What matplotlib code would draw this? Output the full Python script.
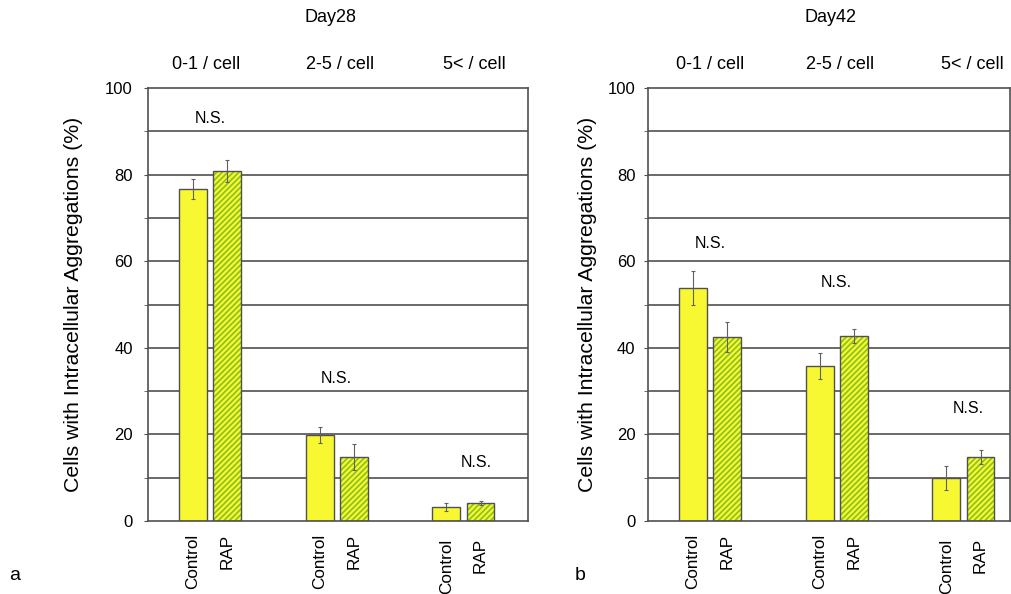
import matplotlib.pyplot as plt
import numpy as np

plt.rcParams['font.family'] = ['Liberation Sans', 'DejaVu Sans']
plt.rcParams['hatch.linewidth'] = 1.2

groups = ['0-1 / cell', '2-5 / cell', '5< / cell']
bar_names = ['Control', 'RAP']

# Day28 values (%), with error bars
d28_control = [76.7, 19.9, 3.2]
d28_control_err = [2.3, 1.8, 1.0]
d28_rap = [80.8, 14.8, 4.2]
d28_rap_err = [2.5, 3.0, 0.5]

# Day42 values (%)
d42_control = [53.8, 35.8, 9.9]
d42_control_err = [3.9, 2.9, 2.7]
d42_rap = [42.5, 42.7, 14.8]
d42_rap_err = [3.5, 1.7, 1.7]

ns_28 = [93, 33, 13.5]
ns_42 = [64, 55, 26]

yellow = '#f8f832'
green_hatch = '#88c020'
edge = '#505050'

fig = plt.figure(figsize=(10.11, 5.94), dpi=100)

def draw_panel(ax, ctrl, ctrl_err, rap, rap_err, ns_y, ns_dx, head_x, tpad, lpad):
    x = np.arange(3) + 0.49
    w = 0.22
    xc = x - 0.135
    xr = x + 0.135
    for yv in range(10, 100, 10):
        ax.axhline(yv, color='#505050', lw=1.2, zorder=0)
    ax.bar(xc, ctrl, w, color=yellow, edgecolor=edge, lw=1, zorder=2)
    ax.bar(xr, rap, w, color=yellow, edgecolor=green_hatch, hatch='//////', lw=0, zorder=2)
    ax.bar(xr, rap, w, fill=False, edgecolor=edge, lw=1, zorder=3)
    ax.errorbar(xc, ctrl, yerr=ctrl_err, fmt='none', ecolor='#606060', elinewidth=0.8, capsize=1.5, capthick=0.8, zorder=4)
    ax.errorbar(xr, rap, yerr=rap_err, fmt='none', ecolor='#606060', elinewidth=0.8, capsize=1.5, capthick=0.8, zorder=4)
    ax.set_ylim(0, 100)
    ax.set_yticks(range(0, 101, 20))
    ax.set_yticks(range(0, 101, 10), minor=True)
    ax.tick_params(axis='y', which='both', direction='out', length=3, color='#505050', labelsize=12, pad=tpad)
    ax.set_xticks([])
    for s in ax.spines.values():
        s.set_color('#505050')
        s.set_linewidth(1.2)
    ax.set_ylabel('Cells with Intracellular Aggregations (%)', fontsize=15.3, labelpad=lpad)
    for i in range(3):
        ax.text(x[i] + ns_dx[i], ns_y[i], 'N.S.', ha='center', va='center', fontsize=11.5)
        ax.text(head_x[i], 1.055, groups[i], ha='center', va='center', fontsize=13,
                transform=ax.get_xaxis_transform())
        off = -0.03 if i < 2 else -0.04
        ax.text(xc[i], off, bar_names[0], rotation=90, ha='center', va='top', fontsize=12.3,
                transform=ax.get_xaxis_transform())
        ax.text(xr[i], off, bar_names[1], rotation=90, ha='center', va='top', fontsize=12.3,
                transform=ax.get_xaxis_transform())

ax1 = fig.add_axes([148/1011, 1-521/594, 380/1011, 433/594])
ax1.set_xlim(0, 3)
draw_panel(ax1, d28_control, d28_control_err, d28_rap, d28_rap_err,
           ns_28, [0.0, 0.0, 0.1], [0.46, 1.52, 2.58], 8, 16)

ax2 = fig.add_axes([648/1011, 1-521/594, 362/1011, 433/594])
ax2.set_xlim(0, 362/126.67)
draw_panel(ax2, d42_control, d42_control_err, d42_rap, d42_rap_err,
           ns_42, [0.0, 0.0, 0.04], [0.49, 1.52, 2.56], 6, 8)

fig.text(330/1011, 1-18/594, 'Day28', ha='center', va='center', fontsize=13)
fig.text(830/1011, 1-18/594, 'Day42', ha='center', va='center', fontsize=13)
fig.text(15/1011, 1-575/594, 'a', ha='center', va='center', fontsize=14)
fig.text(580/1011, 1-575/594, 'b', ha='center', va='center', fontsize=14)

fig.savefig('out.png', dpi=100)
